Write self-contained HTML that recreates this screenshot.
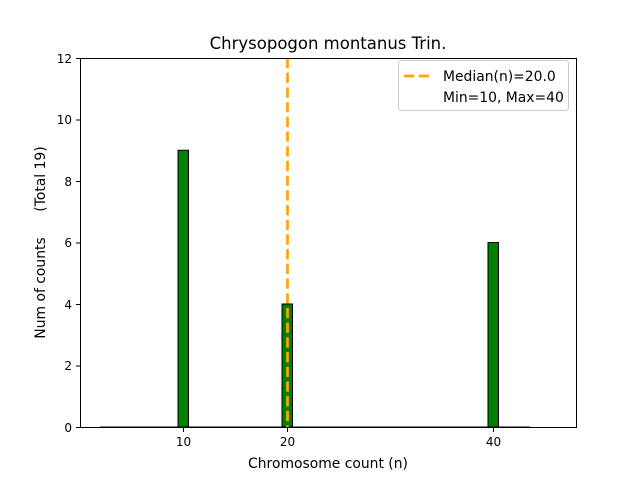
<!DOCTYPE html>
<html><head><meta charset="utf-8"><style>
html,body{margin:0;padding:0;background:#fff;}
svg text{font-family:"DejaVu Sans","Liberation Sans",sans-serif;fill:#000;}
</style></head><body>
<svg width="640" height="480" xmlns="http://www.w3.org/2000/svg">
<rect width="640" height="480" fill="#fff"/>
<rect x="178" y="150.25" width="10.5" height="276.75" fill="green" stroke="#000" stroke-width="1"/>
<rect x="282" y="304" width="10.5" height="123" fill="green" stroke="#000" stroke-width="1"/>
<rect x="488" y="242.5" width="10.5" height="184.5" fill="green" stroke="#000" stroke-width="1"/>
<line x1="100" y1="427" x2="530" y2="427" stroke="#000" stroke-width="1"/>
<line x1="287.5" y1="58" x2="287.5" y2="427" stroke="orange" stroke-width="2.7" stroke-dasharray="10.3,4.4"/>
<rect x="80.5" y="58.5" width="496" height="369" fill="none" stroke="#000" stroke-width="1"/>
<g stroke="#000" stroke-width="1">
<line x1="76" y1="427.5" x2="80" y2="427.5"/>
<line x1="76" y1="366" x2="80" y2="366"/>
<line x1="76" y1="304.5" x2="80" y2="304.5"/>
<line x1="76" y1="243" x2="80" y2="243"/>
<line x1="76" y1="181.5" x2="80" y2="181.5"/>
<line x1="76" y1="120" x2="80" y2="120"/>
<line x1="76" y1="58.5" x2="80" y2="58.5"/>
<line x1="183.5" y1="428" x2="183.5" y2="432"/>
<line x1="287.5" y1="428" x2="287.5" y2="432"/>
<line x1="493.5" y1="428" x2="493.5" y2="432"/>
</g>
<g font-size="12" text-anchor="middle">
<text x="183.5" y="446">10</text>
<text x="287.5" y="446">20</text>
<text x="493.5" y="446">40</text>
</g>
<g font-size="12" text-anchor="end">
<text x="72" y="432">0</text>
<text x="72" y="370">2</text>
<text x="72" y="309">4</text>
<text x="72" y="247">6</text>
<text x="72" y="186">8</text>
<text x="72" y="124">10</text>
<text x="72" y="63">12</text>
</g>
<text x="328" y="468" font-size="13.9" text-anchor="middle">Chromosome count (n)</text>
<text x="328" y="49" font-size="16.5" text-anchor="middle">Chrysopogon montanus Trin.</text>
<text transform="translate(45,288) rotate(-90)" font-size="13.9" text-anchor="middle">Num of counts</text>
<text transform="translate(45,179) rotate(-90)" font-size="13.9" text-anchor="middle">(Total 19)</text>
<rect x="398.5" y="60.5" width="170" height="50" rx="3" fill="#fff" stroke="#ccc" stroke-width="1"/>
<line x1="404" y1="76" x2="432" y2="76" stroke="orange" stroke-width="2.7" stroke-dasharray="10.3,4.4"/>
<text x="443" y="81" font-size="13.9">Median(n)=20.0</text>
<text x="443" y="102" font-size="13.9">Min=10, Max=40</text>
</svg>
</body></html>
